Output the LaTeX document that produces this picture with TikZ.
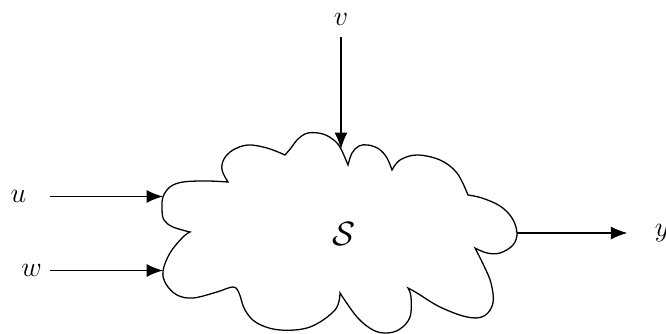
\documentclass[tikz,border=0pt]{standalone}
\usepackage{amsmath}
\usepackage{tikz}
\usetikzlibrary{arrows.meta,positioning,calc}

\begin{document}
\begin{tikzpicture}[x=0.015cm,y=-0.015cm,
    sig/.style={-{Latex[length=7pt,width=5.5pt]},line width=0.55pt},
    lbl/.style={inner sep=0pt,font=\fontsize{13}{16}\selectfont}]
    \useasboundingbox (0,0) rectangle (666,334);

    % system cloud
    \draw[line width=0.55pt]
        (228,182) -- plot[smooth,tension=0.6] coordinates {(228,182) (222,170) (224,159) (233,150) (248,145) (267,148) (285,155)}
        -- plot[smooth,tension=0.6] coordinates {(285,155) (291,148) (298,139) (308,133) (323,134) (335,141) (341,149) (348,165)}
        -- plot[smooth,tension=0.6] coordinates {(348,165) (352,153) (359,146) (368,145) (379,149) (387,158) (392,170)}
        -- plot[smooth,tension=0.6] coordinates {(392,170) (400,160) (417,155) (440,160) (457,173) (468,195)}
        -- plot[smooth,tension=0.6] coordinates {(468,195) (482,198) (500,206) (512,218) (517,233) (513,245) (500,253) (487,253) (475,248)}
        -- plot[smooth,tension=0.6] coordinates {(475,248) (484,266) (491,283) (493,303) (484,316) (467,317) (440,307) (417,293) (408,288)}
        -- plot[smooth,tension=0.6] coordinates {(408,288) (411,297) (410,317) (400,329) (387,333) (373,330) (357,317) (340,293)}
        -- plot[smooth,tension=0.6] coordinates {(340,293) (335,310) (310,327) (280,330) (257,323) (245,310) (239,293) (233,287) (217,292) (193,298) (177,295) (166,284) (163,271) (170,253) (183,237) (190,232)}
        -- plot[smooth,tension=0.6] coordinates {(190,232) (173,227) (164,220) (162,209) (163,197) (170,187) (183,182) (207,181) (228,182)}
        -- cycle;

    \coordinate (uin) at (163,196.5);
    \coordinate (win) at (163,270.5);
    \coordinate (vin) at (341,149);
    \coordinate (yout) at (517,233);

    \node[font=\fontsize{15}{18}\selectfont] at (344,234) (sys) {$\mathcal{S}$};
    \node[lbl] at (18.5,196.5) (u) {$u$};
    \node[lbl] at (31.5,270.5) (w) {$w$};
    \node[lbl] at (341,19) (v) {$v$};
    \node[lbl] at (662,233) (y) {$y$};

    \draw[sig,shorten <=10pt] (u) -- (uin);
    \draw[sig,shorten <=3.3pt] (w) -- (win);
    \draw[sig,shorten <=5pt] (v) -- (vin);
    \draw[sig,shorten >=11.5pt] (yout) -- (y);
\end{tikzpicture}
\end{document}
